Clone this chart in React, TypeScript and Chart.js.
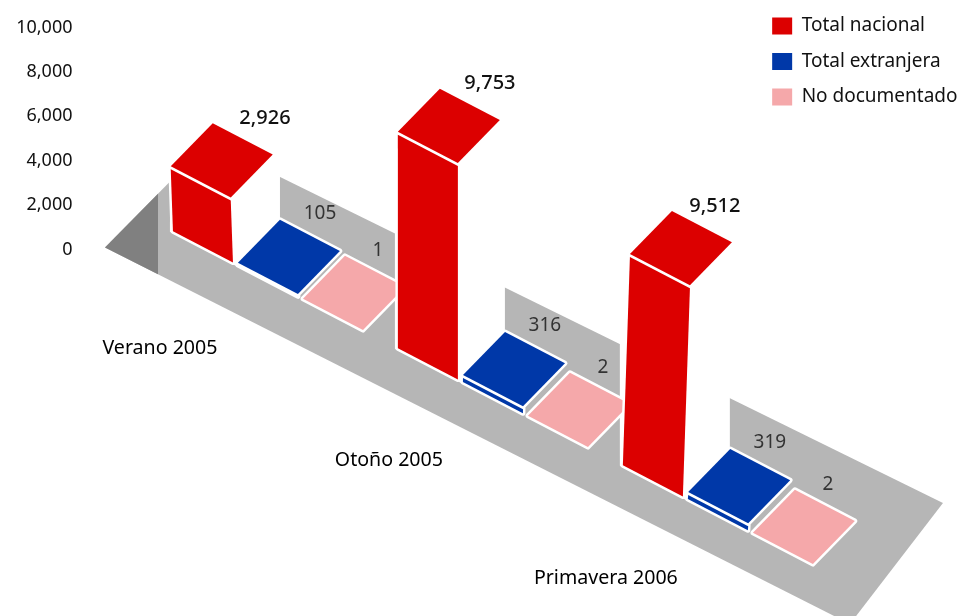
import React, { useEffect, useRef } from "react";
import { Chart, registerables, BarController, BarElement } from "chart.js";

const categories = ["Verano 2005", "Otoño 2005", "Primavera 2006"];
const groupPositions = [0, 1, 2];
const totalNacional = [2926, 9753, 9512];
const totalExtranjera = [105, 316, 319];
const noDocumentado = [1, 2, 2];
const yTicks = [0, 2000, 4000, 6000, 8000, 10000];

const RED = "#dc0000";
const BLUE = "#0038a8";
const PINK = "#f5a8aa";
const FLOOR = "#b6b6b6";
const FLOOR_DARK = "#808080";
const FONT = "'Noto Sans', sans-serif";

// Oblique projection used for every bar
const SLOPE = 0.52;
const ORIGIN_X = 208;
const DEPTH_X = 42;
const DEPTH_Y = -43;
const TOP_GAP = 3;
const LEAN_CENTER = 400;
const LEAN = 0.00015;
const CATEGORY_DX = [-13, -9, -17];
const CATEGORY_DY = [117, 112, 113];

const floorY = (base: number, x: number) => base + SLOPE * (x - ORIGIN_X);

function poly(ctx: CanvasRenderingContext2D, pts: number[][]) {
  ctx.beginPath();
  pts.forEach(([x, y], i) => (i ? ctx.lineTo(x, y) : ctx.moveTo(x, y)));
  ctx.closePath();
}

class Bar3DElement extends BarElement {
  static id = "bar3d";
  static defaults = BarElement.defaults;
  static defaultRoutes = BarElement.defaultRoutes;
  draw(ctx: CanvasRenderingContext2D) {
    const { x, y, base, width } = (this as any).getProps(["x", "y", "base", "width"]);
    const color = (this as any).options.backgroundColor;
    const left = x - width / 2;
    const by = floorY(base, left);
    const h = base - y;
    const ax = width;
    const ay = width * SLOPE;
    const top = by - h;
    const tl = left + h * (left - LEAN_CENTER) * LEAN;
    const outline = [
      [left, by],
      [left + ax, by + ay],
      [tl + ax, top + ay],
      [tl + ax + DEPTH_X, top + ay + DEPTH_Y],
      [tl + DEPTH_X, top + DEPTH_Y],
      [tl, top],
    ];
    ctx.save();
    ctx.lineJoin = "round";
    ctx.strokeStyle = "#ffffff";
    ctx.lineWidth = 5;
    poly(ctx, outline);
    ctx.stroke();
    ctx.fillStyle = "#ffffff";
    ctx.fill();
    ctx.fillStyle = color;
    if (h > TOP_GAP + 0.5) {
      poly(ctx, [
        [left, by],
        [left + ax, by + ay],
        [tl + ax, top + ay + TOP_GAP],
        [tl, top + TOP_GAP],
      ]);
      ctx.fill();
    }
    poly(ctx, [
      [tl, top],
      [tl + ax, top + ay],
      [tl + ax + DEPTH_X, top + ay + DEPTH_Y],
      [tl + DEPTH_X, top + DEPTH_Y],
    ]);
    ctx.fill();
    ctx.restore();
  }
}

class Bar3DController extends BarController {
  static id = "bar3d";
  static defaults = { ...BarController.defaults, dataElementType: "bar3d" };
  static overrides = BarController.overrides;
}

const floorPlugin = {
  id: "floor3d",
  beforeDatasetsDraw(chart: any) {
    const { ctx } = chart;
    const x0 = chart.scales.x.getPixelForValue(0);
    const y0 = chart.scales.y.getPixelForValue(0);
    // floor parallelogram, placed relative to the scales' origin
    const L = [x0 - 163, y0 - 2];
    const B = [x0 - 59, y0 - 107.5];
    const R = [x0 + 675, y0 + 253.5];
    const F = [x0 + 582, y0 + 374.5];
    const cutX = x0 - 110;
    ctx.save();
    poly(ctx, [L, B, R, F]);
    ctx.fillStyle = FLOOR;
    ctx.fill();
    ctx.save();
    ctx.beginPath();
    ctx.rect(0, 0, cutX, chart.height);
    ctx.clip();
    poly(ctx, [L, B, R, F]);
    ctx.fillStyle = FLOOR_DARK;
    ctx.fill();
    ctx.restore();
    // white space behind each tall bar
    const red = chart.getDatasetMeta(0).data;
    const blue = chart.getDatasetMeta(1).data;
    red.forEach((r: any, i: number) => {
      const b = blue[i];
      const rl = r.x - r.width / 2 - 3;
      const bl = b.x - b.width / 2;
      const backX = bl + DEPTH_X;
      poly(ctx, [
        [rl, floorY(y0, rl) + 2],
        [rl, 0],
        [backX, 0],
        [backX, floorY(y0, bl) + DEPTH_Y],
        [bl, floorY(y0, bl) + 2],
      ]);
      ctx.fillStyle = "#ffffff";
      ctx.fill();
    });
    ctx.restore();
  },
};

const labelPlugin = {
  id: "labels3d",
  afterDatasetsDraw(chart: any) {
    const { ctx } = chart;
    const y0 = chart.scales.y.getPixelForValue(0);
    const spec = [
      { dx: 92, dy: -48, color: "#111111", weight: "500", size: 20 },
      { dx: 82, dy: -49, color: "#333333", weight: "400", size: 19 },
      { dx: 75, dy: -48, color: "#333333", weight: "400", size: 19 },
    ];
    ctx.save();
    ctx.textAlign = "center";
    ctx.textBaseline = "middle";
    chart.data.datasets.forEach((ds: any, d: number) => {
      const s = spec[d];
      chart.getDatasetMeta(d).data.forEach((e: any, i: number) => {
        const left = e.x - e.width / 2;
        const topY = floorY(y0, left) - (y0 - e.y);
        ctx.font = `${s.weight} ${s.size}px ${FONT}`;
        ctx.fillStyle = s.color;
        ctx.fillText(ds.data[i].y.toLocaleString("en-US"), left + s.dx, topY + s.dy);
      });
    });
    ctx.font = `400 19.6px ${FONT}`;
    ctx.fillStyle = "#000000";
    chart.getDatasetMeta(0).data.forEach((e: any, i: number) => {
      const left = e.x - e.width / 2;
      ctx.fillText(categories[i], left + CATEGORY_DX[i], floorY(y0, left) + CATEGORY_DY[i]);
    });
    ctx.restore();
  },
};

Chart.register(...registerables, Bar3DElement as any, Bar3DController as any);

const toPoints = (values: number[]) => values.map((y, i) => ({ x: groupPositions[i], y }));

export default function App() {
  const ref = useRef<HTMLCanvasElement>(null);
  useEffect(() => {
    const chart = new Chart(ref.current as HTMLCanvasElement, {
      type: "bar3d" as any,
      data: {
        datasets: [
          { label: "Total nacional", data: toPoints(totalNacional), backgroundColor: RED, clip: false },
          { label: "Total extranjera", data: toPoints(totalExtranjera), backgroundColor: BLUE, clip: false },
          { label: "No documentado", data: toPoints(noDocumentado), backgroundColor: PINK, clip: false },
        ] as any,
      },
      plugins: [floorPlugin, labelPlugin],
      options: {
        responsive: false,
        animation: false,
        events: [],
        layout: { autoPadding: false, padding: { top: 0, left: 0, right: -3.5, bottom: 366.5 } },
        datasets: { bar3d: { categoryPercentage: 0.867, barPercentage: 0.923 } } as any,
        scales: {
          x: {
            type: "linear",
            display: false,
            min: -0.5,
            max: 2.168,
            offset: false,
            grid: { display: false },
            afterBuildTicks: (s: any) => {
              s.ticks = groupPositions.map((value) => ({ value }));
            },
          },
          y: {
            type: "linear",
            min: 0,
            max: 11238,
            grid: { display: false },
            border: { display: false },
            afterFit: (s: any) => {
              s.width = 155.5;
              s.paddingTop = 0;
              s.paddingBottom = 0;
            },
            afterBuildTicks: (s: any) => {
              s.ticks = yTicks.map((value) => ({ value }));
            },
            ticks: {
              padding: 75,
              color: "#111111",
              font: { family: FONT, size: 18 },
              callback: (v: any) => Number(v).toLocaleString("en-US"),
            },
          },
        },
        plugins: {
          tooltip: { enabled: false },
          title: { display: false },
          legend: {
            position: "right",
            align: "start",
            labels: {
              boxWidth: 20,
              boxHeight: 17,
              padding: 16.5,
              color: "#111111",
              font: { family: FONT, size: 19 },
            },
          },
        },
      } as any,
    });
    return () => chart.destroy();
  }, []);
  return (
    <div style={{ position: "absolute", left: 0, top: 0, width: 964, height: 616, background: "#fff" }}>
      <canvas ref={ref} width={964} height={616} style={{ display: "block" }} />
    </div>
  );
}
